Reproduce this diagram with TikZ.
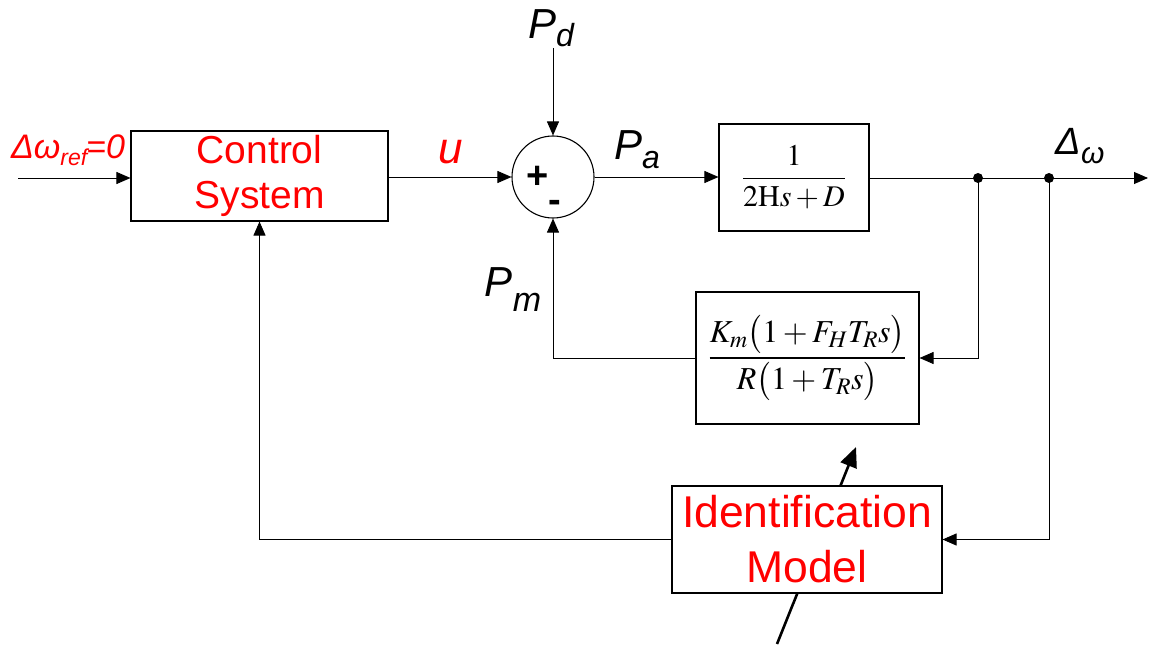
\documentclass[tikz,border=0pt]{standalone}
\usepackage{mathptmx}
\usepackage[no-math]{fontspec}
\setmainfont{Liberation Sans}
\usetikzlibrary{arrows.meta}
\newcommand{\fsz}[1]{\fontsize{#1}{#1}\selectfont}
\begin{document}
\begin{tikzpicture}[x=1pt,y=-1pt,
  blk/.style={draw,line width=1.1pt,fill=white,inner sep=0pt,align=center},
  conn/.style={line width=0.9pt,-{Triangle[length=14pt,width=12pt]}},
  plain/.style={line width=0.9pt},
  redtxt/.style={text=red,inner sep=0pt,align=center},
  lbl/.style={inner sep=0pt,font=\fsz{42}\itshape},
  dot/.style={circle,fill=black,minimum size=10pt,inner sep=0pt}]
\useasboundingbox (0,0) rectangle (1152,658);
% thick slanted arrow (drawn first, box covers it)
\coordinate (sa) at (777,644);
\coordinate (sb) at (856,447);
\draw[line width=2.6pt,-{Triangle[length=20pt,width=17pt]}] (sa) -- (sb);
% blocks
\node[blk,minimum width=257pt,minimum height=90pt] (ctrl) at (259.5,176) {};
\node[redtxt,font=\fsz{39}] (ctrltxt) at (259.5,176) {Control\\[6pt]System};
\node[draw,circle,line width=1.1pt,minimum size=82pt,inner sep=0pt] (sum) at (553,177) {};
\node[inner sep=0pt,font=\fsz{38}\bfseries] (plus) at (538,177) {+};
\node[inner sep=0pt,font=\fsz{38}\bfseries] (minus) at (555,206) {-};
\node[blk,minimum width=150pt,minimum height=107pt] (g1) at (794,177.5)
  {\fsz{30}$\displaystyle\frac{1}{2\mathrm{H}s+D}$};
\node[blk,minimum width=223pt,minimum height=132pt] (g2) at (807.5,358)
  {\fsz{32}$\displaystyle\frac{K_m\bigl(1+F_H T_R s\bigr)}{R\bigl(1+T_R s\bigr)}$};
\node[blk,minimum width=270pt,minimum height=107pt] (id) at (807,539.5) {};
\node[redtxt,font=\fsz{44.5}] (idtxt) at (807,539) {Identification\\[10pt]Model};
% coordinates
\coordinate (in) at (18,178);
\coordinate (pdtop) at (553,48);
\node[dot] (d1) at (978,178) {};
\node[dot] (d2) at (1049,178) {};
\coordinate (out) at (1148,178);
% labels
\node[redtxt,font=\fsz{34}\itshape] (wref) at (68,150) {Δω\raisebox{-7pt}{\fsz{23}ref}\kern-1pt=0};
\node[lbl,text=red,font=\fsz{44}\itshape] (ulbl) at (451,152) {u};
\node[lbl] (pd) at (551,28) {P\raisebox{-8pt}{\fsz{32}d}};
\node[lbl] (pa) at (637,150) {P\raisebox{-9pt}{\fsz{32}a}};
\node[lbl] (pm) at (513,290) {P\raisebox{-15pt}{\fsz{34}m}};
\node[lbl,font=\fsz{38}\itshape] (dw) at (1080,146) {Δ\raisebox{-9pt}{\fsz{30}ω}};
% connectors
\draw[conn] (in) -- (ctrl.west |- in);
\draw[conn] (ctrl.east |- sum) -- (sum.west);
\draw[conn] (pdtop) -- (sum.north);
\draw[conn] (sum.east) -- (g1.west |- sum);
\draw[plain] (g1.east |- d1) -- (d1.center);
\draw[plain] (d1.center) -- (d2.center);
\draw[conn] (d2.center) -- (out);
\draw[conn] (d1.center) |- (g2.east);
\draw[conn] (g2.west) -| (sum.south);
\draw[conn] (d2.center) |- (id.east);
\draw[conn] (id.west) -| (ctrl.south);
\end{tikzpicture}
\end{document}
